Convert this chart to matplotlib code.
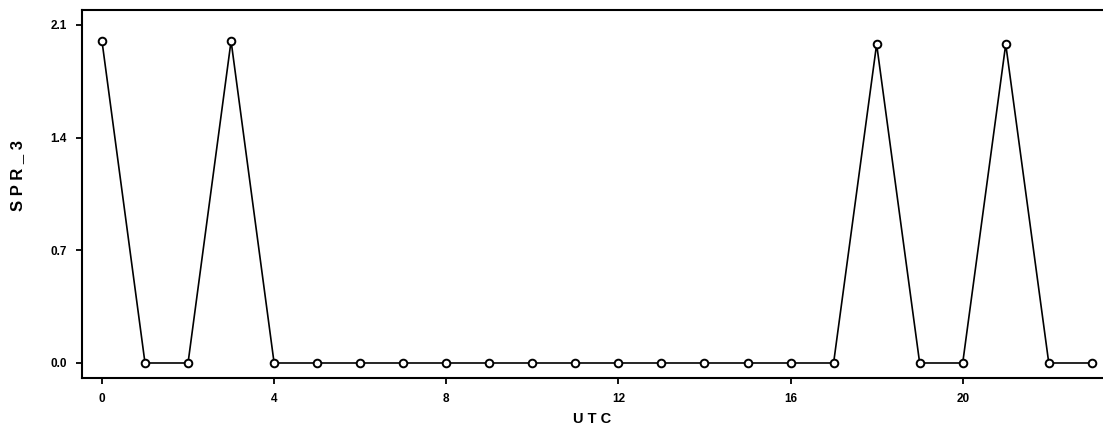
import matplotlib.pyplot as plt

# hourly values
utc = list(range(24))
spr_3 = [2.00, 0, 0, 2.00, 0, 0, 0, 0, 0, 0, 0, 0, 0, 0, 0, 0, 0, 0,
         1.98, 0, 0, 1.98, 0, 0]
x_ticks = [0, 4, 8, 12, 16, 20]
y_ticks = [0.0, 0.7, 1.4, 2.1]

plt.rcParams['font.family'] = ['Liberation Sans', 'DejaVu Sans']
plt.rcParams['font.weight'] = 'bold'

fig = plt.figure(figsize=(11.03, 4.30), dpi=100)
ax = fig.add_axes([0.0743, 0.121, 0.9257, 0.856])

ax.plot(utc, spr_3, color='black', lw=1.2, marker='o', ms=5.5,
        mfc='white', mec='black', mew=1.4)

ax.set_xlim(-0.465, 23.26)
ax.set_ylim(-0.093, 2.193)
ax.set_xticks(x_ticks)
ax.set_yticks(y_ticks)
ax.set_yticklabels(['%.1f' % v for v in y_ticks])
ax.tick_params(direction='out', length=4, width=1.3, labelsize=8.5, pad=7)

ax.spines['right'].set_visible(False)
for s in ['left', 'bottom', 'top']:
    ax.spines[s].set_linewidth(1.5)

ax.set_xlabel('U T C', fontsize=10.5, fontweight='bold', labelpad=5)
ax.set_ylabel('S P R _ 3', fontsize=12, fontweight='bold')
ax.yaxis.set_label_coords(-0.056, 0.55)

fig.savefig('out.png', dpi=100)
